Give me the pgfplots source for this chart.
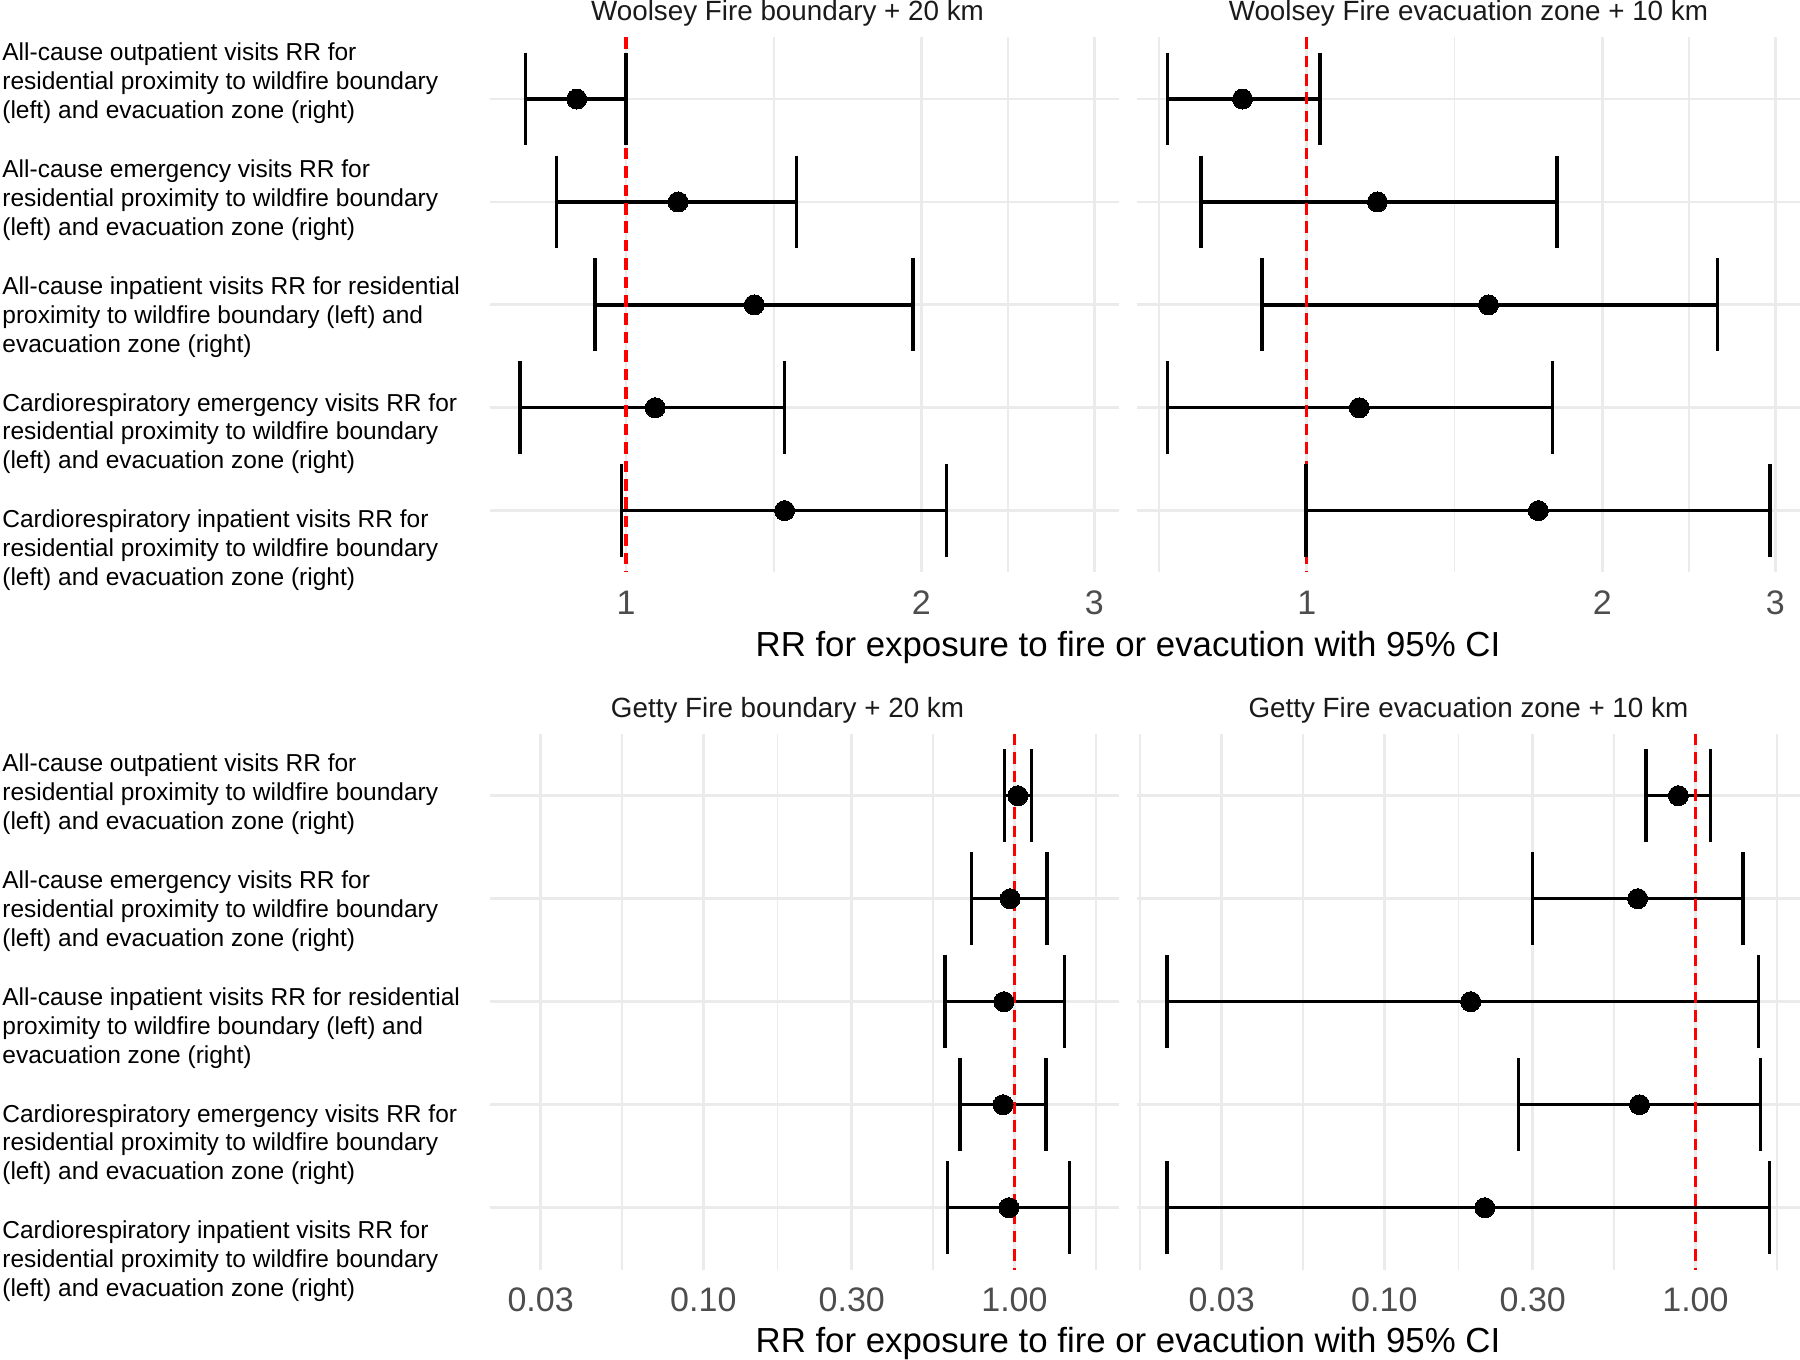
\documentclass[border=0pt]{standalone}
\usepackage{fontspec}
\setmainfont{Liberation Sans}
\usepackage{pgfplots}
\usepackage{pgfplotstable}
\pgfplotsset{compat=1.18}
\definecolor{gridc}{HTML}{EBEBEB}
\definecolor{tickc}{HTML}{4D4D4D}
\definecolor{titlec}{HTML}{1A1A1A}
\definecolor{vred}{HTML}{FF0000}

% Woolsey Fire boundary + 20 km
\pgfplotstableread{
y lo est hi
1 0.790 0.891 1.000
2 0.850 1.130 1.492
3 0.930 1.351 1.961
4 0.780 1.071 1.450
5 0.990 1.451 2.120
}\wbnd
% Woolsey Fire evacuation zone + 10 km
\pgfplotstableread{
y lo est hi
1 0.721 0.860 1.031
2 0.780 1.180 1.798
3 0.900 1.531 2.621
4 0.721 1.131 1.779
5 0.998 1.721 2.962
}\wevac
% Getty Fire boundary + 20 km
\pgfplotstableread{
y lo est hi
1 0.931 1.025 1.133
2 0.728 0.969 1.271
3 0.598 0.925 1.448
4 0.669 0.919 1.263
5 0.610 0.960 1.503
}\gbnd
% Getty Fire evacuation zone + 10 km
\pgfplotstableread{
y lo est hi
1 0.693 0.881 1.117
2 0.299 0.652 1.420
3 0.0200 0.1895 1.592
4 0.270 0.661 1.618
5 0.0200 0.2103 1.732
}\gevac

\newcommand\ylab{\fontsize{12.25pt}{14.45pt}\selectfont}
\newcommand\ftitle{\fontsize{13.9pt}{16pt}\selectfont}
\newcommand\xtitle{\fontsize{17.4pt}{20pt}\selectfont}

\pgfplotsset{
  fpanel/.style={
    scale only axis, anchor=south west,
    y dir=reverse, ymin=0.4, ymax=5.6,
    ytick={1,2,3,4,5}, yticklabels={},
    xmajorgrids, xminorgrids, ymajorgrids,
    major grid style={gridc, line width=1.4pt},
    minor grid style={gridc, line width=0.85pt},
    axis line style={draw=none},
    major tick length=0pt, minor tick length=0pt,
    xtick pos=bottom, ytick pos=left,
    xticklabel style={font=\fontsize{17pt}{17pt}\selectfont, text=tickc, anchor=base, yshift=-20.9pt, inner sep=0pt},
  },
  toprow/.style={xtick={1,2,3}, xticklabels={1,2,3}, minor xtick={0.7071,1.4142,2.4495},
    xmin=0.6711, xmax=3.179, height=267.55pt},
  botrow/.style={xtick={0.03,0.1,0.3,1}, xticklabels={0.03,0.10,0.30,1.00},
    minor xtick={0.01643,0.05477,0.1732,0.5477,1.826},
    xmin=0.0160, xmax=2.168, height=267.8pt},
  capmark/.style={only marks, mark=|, mark size=23.2pt, mark options={black, line width=1.7pt}},
  ptmark/.style={only marks, mark=*, mark size=5pt, mark options={black, fill=black, line width=0pt}},
  barline/.style={black, line width=1.7pt, unbounded coords=jump},
  redvline/.style={vred, line width=1.6pt, dash pattern=on 5.8pt off 3.4pt},
}

\begin{document}
\begin{tikzpicture}
\path[use as bounding box] (0,0) rectangle (900pt,680pt);

% ---------- Top left ----------
\begin{semilogxaxis}[fpanel, toprow, at={(245pt,393.8pt)}, width=314.5pt, xmin=0.727]
\addplot[barline] coordinates {(0.790,1) (1.000,1) (1,nan) (0.850,2) (1.492,2) (1,nan) (0.930,3) (1.961,3) (1,nan) (0.780,4) (1.450,4) (1,nan) (0.990,5) (2.120,5)};
\addplot[capmark] table[x=lo,y=y]{\wbnd};
\addplot[capmark] table[x=hi,y=y]{\wbnd};
\addplot[ptmark] table[x=est,y=y]{\wbnd};
\addplot[redvline] coordinates {(1,0.4) (1,5.6)};
\end{semilogxaxis}

% ---------- Top right ----------
\begin{semilogxaxis}[fpanel, toprow, at={(568.35pt,393.8pt)}, width=331.65pt]
\addplot[barline] coordinates {(0.721,1) (1.031,1) (1,nan) (0.780,2) (1.798,2) (1,nan) (0.900,3) (2.621,3) (1,nan) (0.721,4) (1.779,4) (1,nan) (0.998,5) (2.962,5)};
\addplot[capmark] table[x=lo,y=y]{\wevac};
\addplot[capmark] table[x=hi,y=y]{\wevac};
\addplot[ptmark] table[x=est,y=y]{\wevac};
\addplot[redvline] coordinates {(1,0.4) (1,5.6)};
\end{semilogxaxis}

% ---------- Bottom left ----------
\begin{semilogxaxis}[fpanel, botrow, at={(245pt,45.25pt)}, width=314.5pt, xmin=0.02062]
\addplot[barline] coordinates {(0.931,1) (1.133,1) (1,nan) (0.728,2) (1.271,2) (1,nan) (0.598,3) (1.448,3) (1,nan) (0.669,4) (1.263,4) (1,nan) (0.610,5) (1.503,5)};
\addplot[capmark] table[x=lo,y=y]{\gbnd};
\addplot[capmark] table[x=hi,y=y]{\gbnd};
\addplot[ptmark] table[x=est,y=y]{\gbnd};
\addplot[redvline] coordinates {(1,0.4) (1,5.6)};
\end{semilogxaxis}

% ---------- Bottom right ----------
\begin{semilogxaxis}[fpanel, botrow, at={(568.35pt,45.25pt)}, width=331.65pt]
\addplot[barline] coordinates {(0.693,1) (1.117,1) (1,nan) (0.299,2) (1.420,2) (1,nan) (0.0200,3) (1.592,3) (1,nan) (0.270,4) (1.618,4) (1,nan) (0.0200,5) (1.732,5)};
\addplot[capmark] table[x=lo,y=y]{\gevac};
\addplot[capmark] table[x=hi,y=y]{\gevac};
\addplot[ptmark] table[x=est,y=y]{\gevac};
\addplot[redvline] coordinates {(1,0.4) (1,5.6)};
\end{semilogxaxis}

% ---------- Facet titles ----------
\node[anchor=base, font=\ftitle, text=titlec, inner sep=0pt] at (393.75pt,669.65pt) {Woolsey Fire boundary + 20 km};
\node[anchor=base, font=\ftitle, text=titlec, inner sep=0pt] at (734.2pt,669.65pt) {Woolsey Fire evacuation zone + 10 km};
\node[anchor=base, font=\ftitle, text=titlec, inner sep=0pt] at (393.75pt,321.35pt) {Getty Fire boundary + 20 km};
\node[anchor=base, font=\ftitle, text=titlec, inner sep=0pt] at (734.2pt,321.35pt) {Getty Fire evacuation zone + 10 km};

% ---------- X titles ----------
\node[anchor=base, font=\xtitle, inner sep=0pt] at (564pt,351.9pt) {RR for exposure to fire or evacution with 95\% CI};
\node[anchor=base, font=\xtitle, inner sep=0pt] at (564pt,3.7pt) {RR for exposure to fire or evacution with 95\% CI};

% ---------- Row labels ----------
\foreach \yy in {-1pt, -356.5pt} {
\node[anchor=west, align=left, inner sep=0pt, font=\ylab] at (1pt,\yy+639.25pt) {All-cause outpatient visits RR for\\residential proximity to wildfire boundary\\(left) and evacuation zone (right)};
\node[anchor=west, align=left, inner sep=0pt, font=\ylab] at (1pt,\yy+580.9pt) {All-cause emergency visits RR for\\residential proximity to wildfire boundary\\(left) and evacuation zone (right)};
\node[anchor=west, align=left, inner sep=0pt, font=\ylab] at (1pt,\yy+522.55pt) {All-cause inpatient visits RR for residential\\proximity to wildfire boundary (left) and\\evacuation zone (right)};
\node[anchor=west, align=left, inner sep=0pt, font=\ylab] at (1pt,\yy+464.2pt) {Cardiorespiratory emergency visits RR for\\residential proximity to wildfire boundary\\(left) and evacuation zone (right)};
\node[anchor=west, align=left, inner sep=0pt, font=\ylab] at (1pt,\yy+405.85pt) {Cardiorespiratory inpatient visits RR for\\residential proximity to wildfire boundary\\(left) and evacuation zone (right)};
}
\end{tikzpicture}
\end{document}
